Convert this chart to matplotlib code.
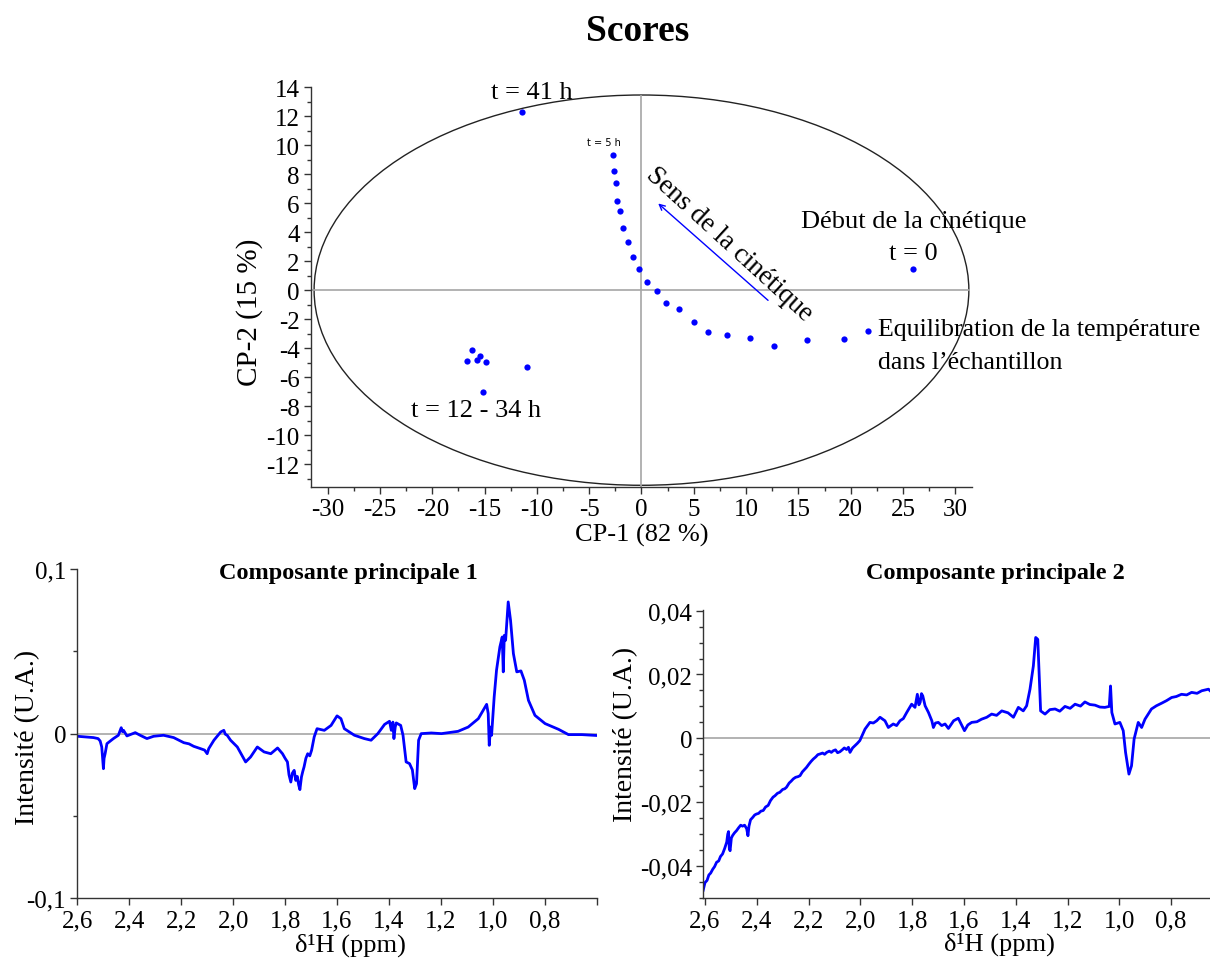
import matplotlib
matplotlib.use('Agg')
import matplotlib.pyplot as plt
from matplotlib.patches import Ellipse
from matplotlib.ticker import MultipleLocator, FixedLocator, FixedFormatter

plt.rcParams['font.family'] = ['Liberation Serif', 'DejaVu Serif']
plt.rcParams['axes.unicode_minus'] = False

# scores on the first two components (t = 0, temperature step, kinetics, late samples)
cp1 = [25.93, 21.65, 19.36, 15.84, 12.67, 10.38, 8.16, 6.35, 4.98, 3.55, 2.38,
       1.46, 0.48, -0.22, -0.83, -1.33, -1.74, -2.03, -2.31, -2.41, -2.64, -2.73,
       -11.46, -16.70, -16.19, -15.71, -15.40, -14.89, -15.11, -10.92]
cp2 = [1.43, -2.80, -3.37, -3.42, -3.88, -3.30, -3.07, -2.91, -2.20, -1.32, -0.88,
       -0.07, 0.58, 1.43, 2.31, 3.33, 4.27, 5.43, 6.17, 7.39, 8.20, 9.29,
       12.29, -4.90, -4.16, -4.83, -4.53, -4.97, -7.00, -5.27]

# loadings of component 1
ppm1 = [2.600, 2.538, 2.520, 2.512, 2.506, 2.503, 2.4995, 2.497, 2.493, 2.486,
        2.461, 2.442, 2.431, 2.426, 2.422, 2.409, 2.377, 2.358, 2.332, 2.306,
        2.268, 2.229, 2.190, 2.170, 2.152, 2.126, 2.110, 2.100, 2.094, 2.074,
        2.048, 2.036, 2.030, 2.023, 2.010, 1.984, 1.952, 1.933, 1.907, 1.881,
        1.855, 1.829, 1.810, 1.800, 1.791, 1.785, 1.778, 1.772, 1.765, 1.759,
        1.753, 1.748, 1.743, 1.737, 1.732, 1.727, 1.720, 1.713, 1.705, 1.698,
        1.688, 1.677, 1.649, 1.623, 1.600, 1.585, 1.572, 1.533, 1.495, 1.469,
        1.443, 1.417, 1.398, 1.391, 1.385, 1.381, 1.376, 1.372, 1.355, 1.346,
        1.334, 1.321, 1.310, 1.301, 1.294, 1.286, 1.276, 1.237, 1.198, 1.134,
        1.095, 1.056, 1.024, 1.018, 1.014, 1.009, 1.005, 0.995, 0.986, 0.973,
        0.964, 0.960, 0.956, 0.951, 0.941, 0.932, 0.921, 0.908, 0.892, 0.879,
        0.863, 0.838, 0.799, 0.747, 0.709, 0.657, 0.593]
pc1 = [-0.0016, -0.0024, -0.0030, -0.0045, -0.0081, -0.0140, -0.0213, -0.0150, -0.0122, -0.0061,
       -0.0030, -0.0010, 0.0036, 0.0012, 0.0020, -0.0014, 0.0006, -0.0010, -0.0030, -0.0016,
       -0.0010, -0.0024, -0.0055, -0.0062, -0.0077, -0.0091, -0.0100, -0.0122, -0.0091, -0.0040,
       0.0010, 0.0020, -0.0004, -0.0010, -0.0040, -0.0081, -0.0172, -0.0142, -0.0081, -0.0111,
       -0.0122, -0.0087, -0.0122, -0.0150, -0.0172, -0.0250, -0.0294, -0.0240, -0.0223, -0.0284,
       -0.0260, -0.0310, -0.0340, -0.0263, -0.0230, -0.0202, -0.0150, -0.0122, -0.0135, -0.0101,
       -0.0020, 0.0030, 0.0020, 0.0050, 0.0108, 0.0091, 0.0030, -0.0010, -0.0030, -0.0040,
       0.0000, 0.0056, 0.0075, 0.0020, 0.0070, -0.0030, 0.0040, 0.0065, 0.0050, -0.0010,
       -0.0172, -0.0182, -0.0220, -0.0334, -0.0304, -0.0040, 0.0000, 0.0004, 0.0000, 0.0014,
       0.0040, 0.0091, 0.0178, 0.0122, -0.0071, 0.0040, -0.0010, 0.0223, 0.0385, 0.0527,
       0.0587, 0.0375, 0.0597, 0.0567, 0.0800, 0.0688, 0.0486, 0.0375, 0.0381, 0.0324,
       0.0202, 0.0111, 0.0061, 0.0026, -0.0006, -0.0006, -0.0012]

# loadings of component 2
ppm2 = [2.607, 2.600, 2.592, 2.585, 2.578, 2.570, 2.563, 2.555, 2.547, 2.540,
        2.532, 2.524, 2.516, 2.512, 2.509, 2.506, 2.503, 2.498, 2.493, 2.486,
        2.478, 2.470, 2.462, 2.455, 2.447, 2.439, 2.434, 2.430, 2.424, 2.416,
        2.408, 2.401, 2.393, 2.384, 2.375, 2.366, 2.356, 2.347, 2.337, 2.330,
        2.320, 2.311, 2.300, 2.292, 2.285, 2.275, 2.267, 2.259, 2.250, 2.241,
        2.233, 2.224, 2.216, 2.208, 2.198, 2.190, 2.182, 2.172, 2.164, 2.156,
        2.146, 2.138, 2.130, 2.120, 2.112, 2.105, 2.096, 2.088, 2.079, 2.070,
        2.062, 2.053, 2.046, 2.040, 2.030, 2.021, 2.012, 2.002, 1.982, 1.963,
        1.950, 1.937, 1.924, 1.905, 1.892, 1.873, 1.860, 1.847, 1.834, 1.821,
        1.802, 1.789, 1.780, 1.774, 1.769, 1.764, 1.759, 1.750, 1.737, 1.724,
        1.718, 1.710, 1.699, 1.686, 1.673, 1.660, 1.640, 1.622, 1.598, 1.585,
        1.570, 1.550, 1.532, 1.512, 1.493, 1.474, 1.454, 1.430, 1.409, 1.390,
        1.371, 1.358, 1.345, 1.332, 1.323, 1.315, 1.309, 1.304, 1.287, 1.268,
        1.248, 1.230, 1.210, 1.190, 1.171, 1.150, 1.133, 1.114, 1.094, 1.075,
        1.056, 1.039, 1.034, 1.029, 1.017, 0.998, 0.985, 0.976, 0.963, 0.953,
        0.943, 0.927, 0.914, 0.901, 0.876, 0.857, 0.837, 0.818, 0.798, 0.780,
        0.760, 0.740, 0.721, 0.700, 0.682, 0.656, 0.643]
pc2 = [-0.0476, -0.0452, -0.0445, -0.0428, -0.0422, -0.0410, -0.0402, -0.0388, -0.0384, -0.0370,
       -0.0362, -0.0345, -0.0325, -0.0300, -0.0292, -0.0345, -0.0352, -0.0312, -0.0304, -0.0296,
       -0.0289, -0.0280, -0.0272, -0.0275, -0.0272, -0.0283, -0.0305, -0.0275, -0.0255, -0.0248,
       -0.0240, -0.0237, -0.0235, -0.0228, -0.0226, -0.0215, -0.0210, -0.0195, -0.0184, -0.0180,
       -0.0172, -0.0169, -0.0160, -0.0158, -0.0153, -0.0140, -0.0134, -0.0127, -0.0122, -0.0120,
       -0.0117, -0.0105, -0.0098, -0.0091, -0.0080, -0.0072, -0.0065, -0.0058, -0.0051, -0.0049,
       -0.0046, -0.0050, -0.0044, -0.0040, -0.0044, -0.0039, -0.0036, -0.0045, -0.0042, -0.0036,
       -0.0030, -0.0035, -0.0028, -0.0044, -0.0030, -0.0023, -0.0016, -0.0007, 0.0029, 0.0050,
       0.0048, 0.0055, 0.0066, 0.0055, 0.0034, 0.0045, 0.0040, 0.0055, 0.0062, 0.0081,
       0.0107, 0.0097, 0.0138, 0.0105, 0.0113, 0.0140, 0.0133, 0.0102, 0.0081, 0.0055,
       0.0034, 0.0048, 0.0050, 0.0040, 0.0045, 0.0031, 0.0055, 0.0063, 0.0024, 0.0042,
       0.0050, 0.0052, 0.0060, 0.0066, 0.0076, 0.0072, 0.0086, 0.0080, 0.0066, 0.0097,
       0.0086, 0.0102, 0.0154, 0.0227, 0.0316, 0.0310, 0.0185, 0.0086, 0.0076, 0.0090,
       0.0092, 0.0085, 0.0100, 0.0094, 0.0107, 0.0101, 0.0114, 0.0106, 0.0104, 0.0098,
       0.0097, 0.0100, 0.0164, 0.0081, 0.0045, 0.0050, 0.0024, -0.0044, -0.0112, -0.0086,
       -0.0002, 0.0050, 0.0034, 0.0060, 0.0092, 0.0102, 0.0110, 0.0118, 0.0128, 0.0131,
       0.0138, 0.0136, 0.0144, 0.0141, 0.0149, 0.0154, 0.0144]

ppm_ticks = [2.6, 2.4, 2.2, 2.0, 1.8, 1.6, 1.4, 1.2, 1.0, 0.8, 0.6]
ppm_labels = ['2,6', '2,4', '2,2', '2,0', '1,8', '1,6', '1,4', '1,2', '1,0', '0,8', '']

BLUE = '#0000ff'
GREY = '#a6a6a6'
AX = '#333333'


def style_axes(ax, size):
    for side in ['top', 'right']:
        ax.spines[side].set_visible(False)
    for side in ['left', 'bottom']:
        ax.spines[side].set_color(AX)
        ax.spines[side].set_linewidth(1.0)
    ax.tick_params(which='both', direction='out', color=AX, width=1.0,
                   labelsize=size, pad=3)
    ax.tick_params(which='major', length=5)
    ax.tick_params(which='minor', length=3)


fig = plt.figure(figsize=(12.1, 9.62), dpi=100)

# ---- scores plot
ax = fig.add_axes([0.257, 0.493, 0.5463, 0.4155])
style_axes(ax, 18)
ax.set_xlim(-31.6, 31.6)
ax.set_ylim(-13.55, 14.0)
ax.add_patch(Ellipse((0, 0), 2 * 31.3, 2 * 13.45, fill=False, ec='#222222', lw=1.0))
ax.hlines(0, -31.6, 31.4, color=GREY, lw=1.2)
ax.vlines(0, -13.55, 13.45, color=GREY, lw=1.2)
ax.plot(cp1, cp2, 'o', color=BLUE, ms=4.5, mec='none')
ax.xaxis.set_major_locator(MultipleLocator(5))
ax.xaxis.set_minor_locator(MultipleLocator(2.5))
ax.yaxis.set_major_locator(FixedLocator(range(-12, 15, 2)))
ax.yaxis.set_minor_locator(MultipleLocator(1))
ax.set_xlabel('CP-1 (82 %)', fontsize=19, labelpad=2)
ax.set_ylabel('CP-2 (15 %)', fontsize=21)
ax.yaxis.set_label_coords(-0.073, 0.44)

ax.annotate('', xy=(1.4, 6.1), xytext=(12.3, -0.83),
            arrowprops=dict(arrowstyle='->', color=BLUE, lw=1.0))
ax.text(8.4, 3.2, 'Sens de la cinétique', fontsize=19.5, rotation=-42.4,
        rotation_mode='anchor', ha='center', va='center')
ax.text(-10.45, 13.69, 't = 41 h', fontsize=19, ha='center', va='center')
ax.text(-3.59, 10.23, 't = 5 h', fontsize=7, ha='center', va='center',
        family='DejaVu Sans')
ax.text(26.0, 4.79, 'Début de la cinétique', fontsize=19, ha='center', va='center')
ax.text(26.0, 2.53, 't = 0', fontsize=19, ha='center', va='center')
ax.text(22.6, -2.71, 'Equilibration de la température', fontsize=18.6,
        ha='left', va='center')
ax.text(22.6, -4.98, 'dans l\u2019échantillon', fontsize=18.6, ha='left', va='center')
ax.text(-15.78, -8.29, 't = 12 - 34 h', fontsize=19, ha='center', va='center')

fig.text(0.527, 0.967, 'Scores', fontsize=27, fontweight='bold',
         ha='center', va='center')

# ---- loadings, component 1
ax1 = fig.add_axes([0.0639, 0.0652, 0.4293, 0.3423])
style_axes(ax1, 18)
ax1.set_xlim(2.6, 0.6)
ax1.set_ylim(-0.1, 0.1)
ax1.axhline(0, color=GREY, lw=1.2)
ax1.plot(ppm1, pc1, color=BLUE, lw=2.0)
ax1.xaxis.set_major_locator(FixedLocator(ppm_ticks))
ax1.xaxis.set_major_formatter(FixedFormatter(ppm_labels))
ax1.yaxis.set_major_locator(FixedLocator([-0.1, 0, 0.1]))
ax1.yaxis.set_major_formatter(FixedFormatter(['-0,1', '0', '0,1']))
ax1.yaxis.set_minor_locator(FixedLocator([-0.05, 0.05]))
ax1.set_xlabel('δ¹H (ppm)', fontsize=19)
ax1.xaxis.set_label_coords(0.525, -0.103)
ax1.set_ylabel('Intensité (U.A.)', fontsize=20)
ax1.yaxis.set_label_coords(-0.072, 0.49)
fig.text(0.288, 0.404, 'Composante principale 1', fontsize=17.5,
         fontweight='bold', ha='center', va='center')

# ---- loadings, component 2 (axis runs past the right edge of the figure)
ax2 = fig.add_axes([0.5812, 0.0655, 0.4295, 0.2997])
style_axes(ax2, 18)
ax2.set_xlim(2.6066, 0.6)
ax2.set_ylim(-0.05, 0.0403)
ax2.axhline(0, color=GREY, lw=1.2)
ax2.plot(ppm2, pc2, color=BLUE, lw=2.0)
ax2.xaxis.set_major_locator(FixedLocator(ppm_ticks))
ax2.xaxis.set_major_formatter(FixedFormatter(ppm_labels))
ax2.yaxis.set_major_locator(FixedLocator([-0.04, -0.02, 0, 0.02, 0.04]))
ax2.yaxis.set_major_formatter(FixedFormatter(['-0,04', '-0,02', '0', '0,02', '0,04']))
ax2.yaxis.set_minor_locator(MultipleLocator(0.005))
ax2.set_xlabel('δ¹H (ppm)', fontsize=19)
ax2.xaxis.set_label_coords(0.57, -0.118)
ax2.set_ylabel('Intensité (U.A.)', fontsize=20)
ax2.yaxis.set_label_coords(-0.125, 0.57)
fig.text(0.823, 0.404, 'Composante principale 2', fontsize=17.5,
         fontweight='bold', ha='center', va='center')

fig.savefig('out.png', dpi=100)
